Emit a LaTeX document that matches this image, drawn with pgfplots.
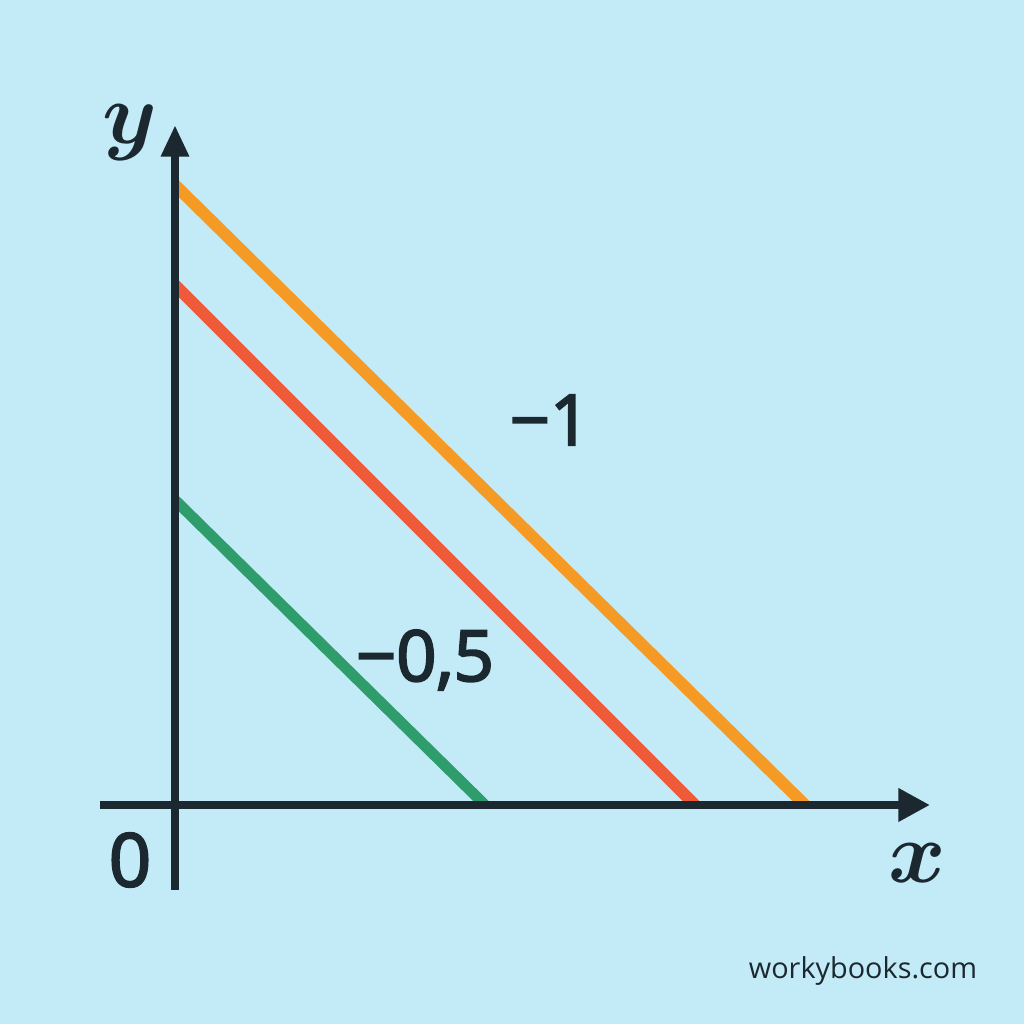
\documentclass[border=0pt]{standalone}
\usepackage{pgfplots}
\pgfplotsset{compat=1.18}
\usetikzlibrary{arrows.meta}
\usepackage{bm}
\usepackage{fontspec}
\setmainfont{Open Sans}
\newfontfamily\medfont[FakeBold=3]{Open Sans}

\definecolor{bgblue}{HTML}{C3EBF7}
\definecolor{inkdark}{HTML}{1C2830}
\definecolor{lnorange}{HTML}{F59B25}
\definecolor{lnred}{HTML}{EF5A3B}
\definecolor{lngreen}{HTML}{2F9C6B}

\begin{document}
\begin{tikzpicture}
\begin{axis}[
    width=10.24cm, height=10.24cm,
    scale only axis,
    hide axis,
    clip=false,
    xmin=-1.75, xmax=8.49,
    ymin=-2.19, ymax=8.05,
]
% background
\fill[bgblue] (axis cs:-1.75,-2.19) rectangle (axis cs:8.49,8.05);

% the three lines
\addplot[lnorange, line width=3.4pt, line cap=butt] coordinates {(0,6.2) (6.3,0)};
\addplot[lnred, line width=3.4pt, line cap=butt] coordinates {(0,5.2) (5.2,0)};
\addplot[lngreen, line width=3.1pt, line cap=butt] coordinates {(0,3.05) (3.1,0)};

% axes
\draw[inkdark, line width=2.3pt, -{Triangle[length=9pt,width=9pt]}]
    (axis cs:-0.75,0) -- (axis cs:7.55,0);
\draw[inkdark, line width=2.3pt, -{Triangle[length=9pt,width=7.5pt]}]
    (axis cs:0,-0.85) -- (axis cs:0,6.8);

% labels
\node[inkdark, font=\fontsize{30}{30}\selectfont] at (axis cs:-0.45,6.72) {$\bm{y}$};
\node[inkdark, font=\fontsize{30}{30}\selectfont] at (axis cs:7.42,-0.58) {$\bm{x}$};
\node[inkdark, font=\fontsize{21}{21}\medfont] at (axis cs:-0.45,-0.55) {0};
\node[inkdark, font=\fontsize{20}{20}\medfont] at (axis cs:3.75,3.85) {−1};
\node[inkdark, font=\fontsize{20}{20}\medfont] at (axis cs:2.5,1.45) {−0,5};
\node[inkdark, font=\fontsize{8.2}{8.2}\selectfont] at (axis cs:6.88,-1.66) {workybooks.com};
\end{axis}
\end{tikzpicture}
\end{document}
